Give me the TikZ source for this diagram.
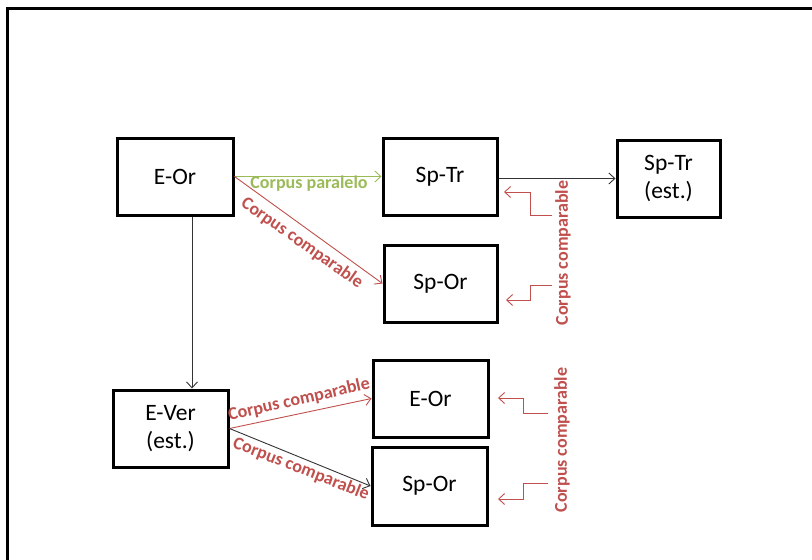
\documentclass[tikz,border=0pt]{standalone}
\usepackage{fontspec}
\setmainfont{Carlito}
\usetikzlibrary{arrows.meta}
\definecolor{cgreen}{HTML}{9BBB59}
\definecolor{cred}{HTML}{C0504D}
\tikzset{
  box/.style={draw=black, line width=3pt, fill=white, minimum height=77pt, align=center, inner sep=2pt, font=\fontsize{23.5}{28}\selectfont},
  conn/.style={line width=0.9pt, -{Straight Barb[length=6pt,width=11pt]}},
  lbl/.style={font=\fontsize{18}{21}\selectfont\bfseries, inner sep=0pt},
}
\begin{document}
\begin{tikzpicture}[x=1pt,y=-1pt]
\useasboundingbox (0,0) rectangle (812,560);
\clip (0,0) rectangle (812,560);
\fill[white] (0,0) rectangle (812,560);
\draw[line width=2.5pt] (7.5,580) -- (7.5,8.5) -- (830,8.5);

\node[box, minimum width=116pt] (eor) at (175,176.5) {E-Or};
\node[box, minimum width=114pt] (sptr) at (440,176.5) {Sp-Tr};
\node[box, minimum width=103pt] (sptrest) at (668.5,178.5) {Sp-Tr\\(est.)};
\node[box, minimum width=113pt] (spor1) at (440.5,283.5) {Sp-Or};
\node[box, minimum width=115pt] (eor2) at (430.5,398.5) {E-Or};
\node[box, minimum width=115pt, minimum height=78pt] (spor2) at (429.5,486) {Sp-Or};
\node[box, minimum width=115pt] (ever) at (170.5,428.5) {E-Ver\\(est.)};

% connectors
\draw[conn, cgreen] (eor.east) -- (sptr.west);
\draw[conn, cred] (eor.east) -- (spor1.west);
\draw[conn, black!80] (sptr.east |- 0,178.5) -- (sptrest.west);
\draw[conn, black!80] (eor.south -| 192,0) -- (ever.north -| 192,0);
\draw[conn, cred] (ever.east) -- (eor2.west);
\draw[conn, black!80] (ever.east) -- (spor2.west);

% labels
\node[lbl, text=cgreen] (lpar) at (309,184) {Corpus paralelo};
\node[lbl, text=cred, rotate=-35] (lcomp1) at (302,243) {Corpus comparable};
\node[lbl, text=cred, rotate=12.7] (lcomp2) at (299,400) {Corpus comparable};
\node[lbl, text=cred, rotate=-21.5] (lcomp3) at (301,469) {Corpus comparable};
\node[lbl, text=cred, rotate=90] (lv1) at (563,253) {Corpus comparable};
\node[lbl, text=cred, rotate=90] (lv2) at (562,440) {Corpus comparable};

% bracket arrows
\coordinate (b1s) at (552,215);
\coordinate (b1t) at (504,192);
\coordinate (b2s) at (552,285);
\coordinate (b2t) at (506,300);
\coordinate (b3s) at (548,413);
\coordinate (b3t) at (498,398);
\coordinate (b4s) at (548,483);
\coordinate (b4t) at (498,499);
\draw[conn, cred] (b1s) -- (530,215) -- (530,192) -- (b1t);
\draw[conn, cred] (b2s) -- (530,285) -- (530,300) -- (b2t);
\draw[conn, cred] (b3s) -- (523,413) -- (523,398) -- (b3t);
\draw[conn, cred] (b4s) -- (523,483) -- (523,499) -- (b4t);
\end{tikzpicture}
\end{document}
